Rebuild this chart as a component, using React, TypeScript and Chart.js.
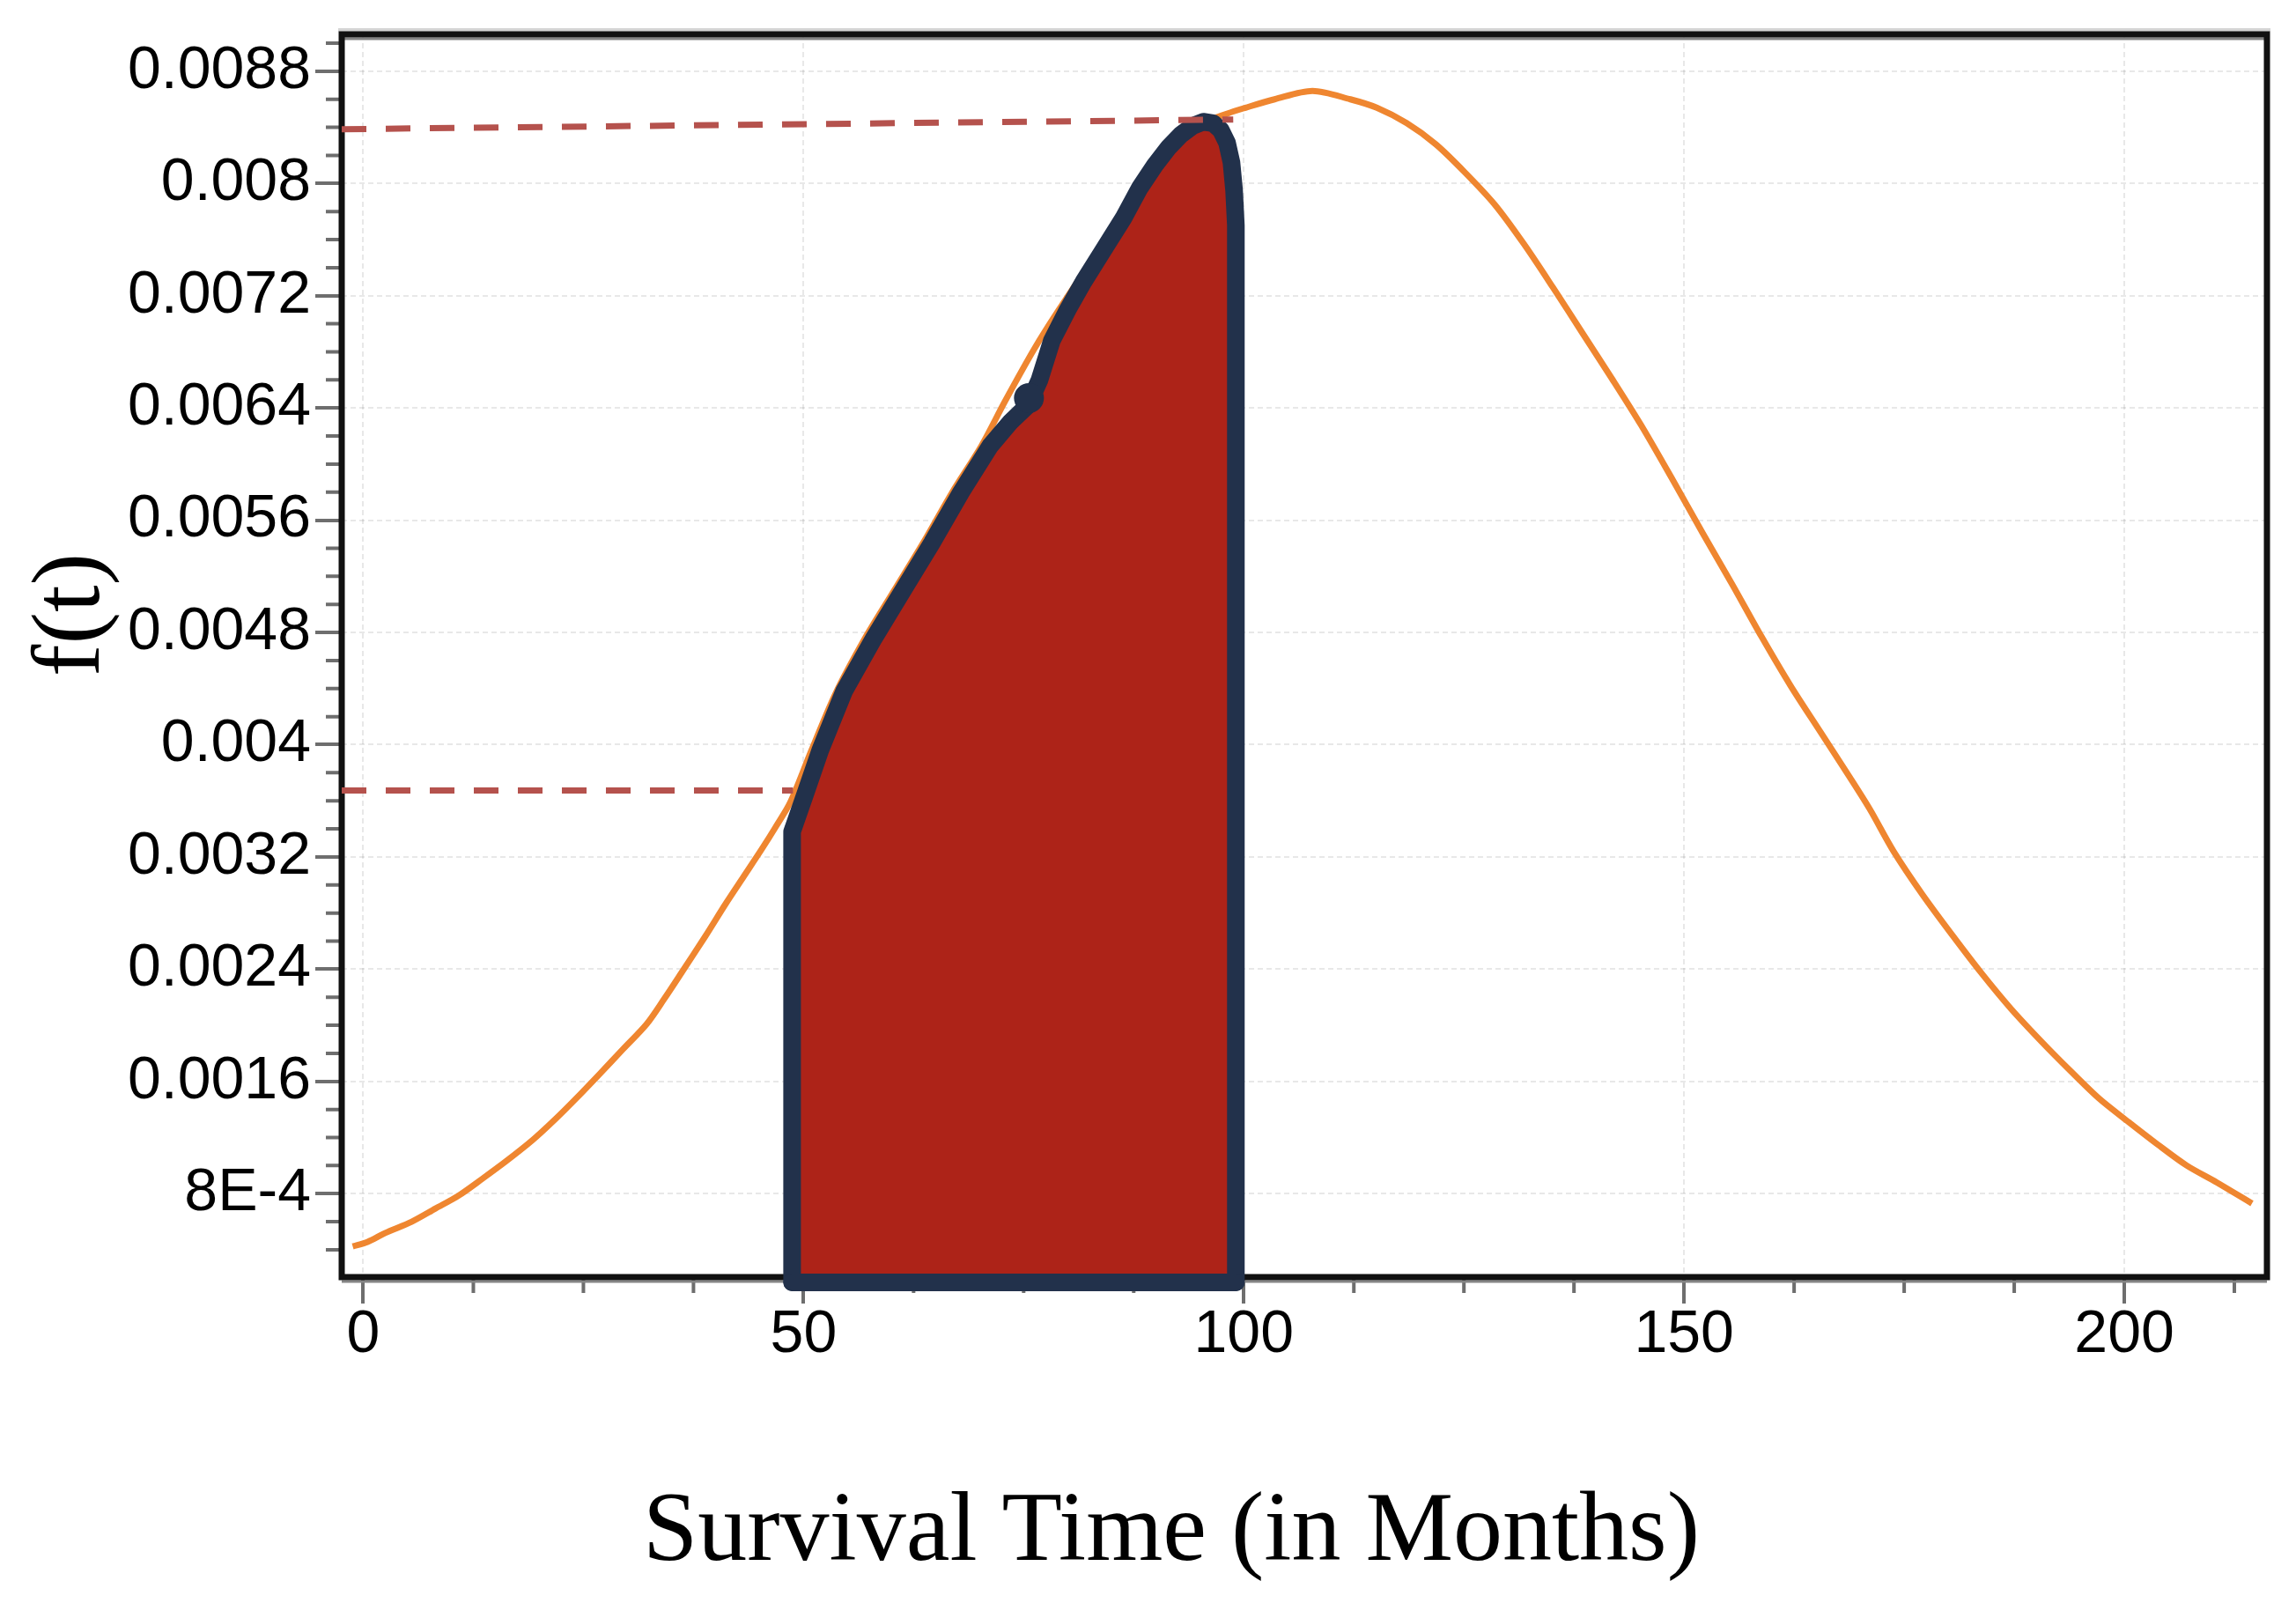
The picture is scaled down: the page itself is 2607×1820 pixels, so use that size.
import React, { useEffect, useRef } from "react";
import { Chart, registerables } from "chart.js";

Chart.register(...registerables);

// ---- Data ----
const ORANGE_T = [
  -1.2, 0.5, 2.5, 5.5, 8.2, 10.8, 13.5, 16.2, 19.2, 21.8, 24.2, 26.8, 29.5, 32.2, 34.2, 36.2,
  38.8, 41.2, 43.2, 45.2, 46.8, 48.5, 50.9, 53.6, 56.9, 60.2, 63.6, 66.9, 70.2, 72.9, 76.2,
  78.9, 83.5, 89.3, 92.5, 95.1, 98.2, 100.2, 103.5, 107.8, 112.1, 115.1, 118.5, 121.8, 125.1,
  128.5, 131.8, 135.1, 138.5, 141.8, 145.1, 148.6, 152.1, 155.5, 158.8, 162.1, 165.5, 168.8,
  171.1, 173.8, 177.1, 180.5, 183.8, 187.1, 190.5, 193.8, 197.1, 200.5, 203.8, 207.1, 210.5, 214.5,
];
const ORANGE_F = [
  0.000424, 0.000456, 0.00052, 0.0006, 0.000694, 0.000785, 0.000905, 0.00103, 0.00118, 0.00133,
  0.00148, 0.00165, 0.00183, 0.00201, 0.00219, 0.00238, 0.00263, 0.00287, 0.00306,
  0.00325, 0.00341, 0.00359, 0.00396, 0.00436, 0.00475, 0.00509, 0.00544, 0.0058, 0.00613,
  0.00645, 0.00682, 0.00709, 0.00752, 0.00802, 0.00826, 0.00842, 0.0085, 0.00854, 0.0086,
  0.00866, 0.0086, 0.00854, 0.00843, 0.00828, 0.00808, 0.00785, 0.00757, 0.00726, 0.00693,
  0.00661, 0.00628, 0.0059, 0.00551, 0.00514, 0.00477, 0.00442, 0.00409, 0.00377, 0.00354,
  0.00324, 0.00293, 0.00264, 0.00237, 0.00212, 0.00189, 0.00168, 0.00148, 0.00131, 0.00115,
  0.001, 0.00088, 0.00073,
];

// shaded area (outline centre line)
const FILL_T = [
  48.7, 48.7, 50.2, 51.9, 54.6, 58.0, 61.2, 64.6, 67.9, 71.2, 73.5, 75.5, 76.8, 78.2, 80.0,
  81.8, 84.0, 86.3, 88.2, 89.9, 91.5, 92.9, 94.2, 95.4, 96.5, 97.4, 98.1, 98.6, 98.9, 99.1, 99.1,
];
const FILL_F = [
  0.000168, 0.00338, 0.00365, 0.00396, 0.00438, 0.00476, 0.00509, 0.00544, 0.0058, 0.00613,
  0.0063, 0.00642, 0.0066, 0.00688, 0.0071, 0.0073, 0.00752, 0.00775, 0.00797, 0.00813,
  0.00826, 0.00835, 0.00841, 0.00844, 0.00843, 0.00838, 0.00829, 0.00815, 0.00795, 0.0077,
  0.000168,
];
const BASE_T = [48.7, 99.1];
const BASE_F = [0.000168, 0.000168];
const BLOB_T = [75.6];
const BLOB_F = [0.00647];

const UPPER_DASH_T = [-2.45, 98.8];
const UPPER_DASH_F = [0.008387, 0.008456];
const LOWER_DASH_T = [-2.45, 48.8];
const LOWER_DASH_F = [0.003673, 0.003673];

const X_TICKS = [0, 50, 100, 150, 200];
const X_LABELS = ["0", "50", "100", "150", "200"];
const X_MINOR = [12.5, 25, 37.5, 62.5, 75, 87.5, 112.5, 125, 137.5, 162.5, 175, 187.5, 212.5];
const Y_TICKS = [0.0008, 0.0016, 0.0024, 0.0032, 0.004, 0.0048, 0.0056, 0.0064, 0.0072, 0.008, 0.0088];
const Y_LABELS = ["8E-4", "0.0016", "0.0024", "0.0032", "0.004", "0.0048", "0.0056", "0.0064", "0.0072", "0.008", "0.0088"];
const Y_MINOR = [
  0.0004, 0.0006, 0.001, 0.0012, 0.0014, 0.0018, 0.002, 0.0022, 0.0026, 0.0028, 0.003, 0.0034,
  0.0036, 0.0038, 0.0042, 0.0044, 0.0046, 0.005, 0.0052, 0.0054, 0.0058, 0.006, 0.0062, 0.0066,
  0.0068, 0.007, 0.0074, 0.0076, 0.0078, 0.0082, 0.0084, 0.0086, 0.009,
];
const X_MIN = -2.45;
const X_MAX = 216.2;
const Y_MIN = 0.000205;
const Y_MAX = 0.009063;

const X_TITLE = "Survival Time (in Months)";
const Y_TITLE = "f(t)";

const W = 2607;
const H = 1820;

const pts = (xs: number[], ys: number[]) => xs.map((x, i) => ({ x, y: ys[i] }));

const NAVY = "#22314b";
const RED = "#ad2318";
const ORANGE = "#ef8630";
const DASH = "#b5524d";
const SANS = "'Liberation Sans', Arial, sans-serif";
const SERIF = "'Liberation Serif', 'Times New Roman', serif";

const framePlugin = {
  id: "frameMinor",
  beforeDatasetsDraw(chart: any) {
    const { ctx, chartArea: a, scales } = chart;
    ctx.save();
    ctx.strokeStyle = "#6e6e6e";
    ctx.lineWidth = 4;
    ctx.beginPath();
    X_MINOR.forEach((v) => {
      const px = scales.x.getPixelForValue(v);
      ctx.moveTo(px, a.bottom);
      ctx.lineTo(px, a.bottom + 18);
    });
    Y_MINOR.forEach((v) => {
      const py = scales.y.getPixelForValue(v);
      ctx.moveTo(a.left - 18, py);
      ctx.lineTo(a.left, py);
    });
    ctx.stroke();
    // bevel shades
    ctx.strokeStyle = "#d4d4d4";
    ctx.lineWidth = 4;
    ctx.beginPath();
    ctx.moveTo(a.left - 4, a.top - 5);
    ctx.lineTo(a.right + 4, a.top - 5);
    ctx.stroke();
    ctx.strokeStyle = "#858585";
    ctx.lineWidth = 3;
    ctx.beginPath();
    ctx.moveTo(a.left, a.top + 5);
    ctx.lineTo(a.right, a.top + 5);
    ctx.moveTo(a.left, a.bottom + 5);
    ctx.lineTo(a.right, a.bottom + 5);
    ctx.stroke();
    ctx.strokeStyle = "#111";
    ctx.lineWidth = 7;
    ctx.strokeRect(a.left, a.top, a.right - a.left, a.bottom - a.top);
    ctx.restore();
  },
};

const titlePlugin = {
  id: "axisTitles",
  afterDraw(chart: any) {
    const { ctx } = chart;
    ctx.save();
    ctx.fillStyle = "#000";
    ctx.textAlign = "center";
    ctx.textBaseline = "alphabetic";
    ctx.font = `112px ${SERIF}`;
    ctx.fillText(X_TITLE, 1330, 1771);
    ctx.translate(112, 698);
    ctx.rotate(-Math.PI / 2);
    ctx.font = `110px ${SERIF}`;
    ctx.fillText(Y_TITLE, 0, 0);
    ctx.restore();
  },
};

export default function App() {
  const ref = useRef<HTMLCanvasElement | null>(null);

  useEffect(() => {
    const canvas = ref.current;
    if (!canvas) return;
    const chart = new Chart(canvas, {
      type: "scatter",
      data: {
        datasets: [
          {
            label: "upper dash",
            data: pts(UPPER_DASH_T, UPPER_DASH_F),
            showLine: true,
            borderColor: DASH,
            borderWidth: 7,
            borderDash: [28, 22],
            pointRadius: 0,
            order: 1,
          },
          {
            label: "lower dash",
            data: pts(LOWER_DASH_T, LOWER_DASH_F),
            showLine: true,
            borderColor: DASH,
            borderWidth: 7,
            borderDash: [28, 22],
            pointRadius: 0,
            order: 1,
          },
          {
            label: "blob",
            data: pts(BLOB_T, BLOB_F),
            showLine: false,
            pointRadius: 17,
            pointBackgroundColor: NAVY,
            pointBorderWidth: 0,
            clip: false,
            order: 2,
          },
          {
            label: "base",
            data: pts(BASE_T, BASE_F),
            showLine: true,
            borderColor: NAVY,
            borderWidth: 20,
            borderCapStyle: "round",
            pointRadius: 0,
            clip: false,
            order: 3,
          },
          {
            label: "area",
            data: pts(FILL_T, FILL_F),
            showLine: true,
            borderColor: NAVY,
            backgroundColor: RED,
            borderWidth: 20,
            borderJoinStyle: "round",
            borderCapStyle: "round",
            fill: "start",
            tension: 0,
            pointRadius: 0,
            clip: false,
            order: 4,
          },
          {
            label: "f(t)",
            data: pts(ORANGE_T, ORANGE_F),
            showLine: true,
            borderColor: ORANGE,
            borderWidth: 7,
            tension: 0.3,
            pointRadius: 0,
            order: 5,
          },
        ],
      },
      options: {
        animation: false,
        responsive: false,
        devicePixelRatio: 1,
        maintainAspectRatio: false,
        layout: { padding: { left: 0, top: 35, right: W - 2574, bottom: 0 } },
        plugins: { legend: { display: false }, tooltip: { enabled: false } },
        scales: {
          x: {
            type: "linear",
            position: "bottom",
            min: X_MIN,
            max: X_MAX,
            afterBuildTicks: (s: any) => {
              s.ticks = X_TICKS.map((v) => ({ value: v }));
            },
            afterFit: (s: any) => {
              s.height = H - 1450;
            },
            ticks: {
              autoSkip: false,
              maxRotation: 0,
              padding: 2,
              color: "#000",
              font: { family: SANS, size: 68, lineHeight: 1 },
              callback: (_v: any, i: number) => X_LABELS[i],
            },
            grid: {
              color: "rgba(0,0,0,0.09)",
              lineWidth: 2,
              tickLength: 30,
              tickWidth: 4,
              tickColor: "#6e6e6e",
            },
            border: { display: false, dash: [6, 4] },
          },
          y: {
            type: "linear",
            min: Y_MIN,
            max: Y_MAX,
            afterBuildTicks: (s: any) => {
              s.ticks = Y_TICKS.map((v) => ({ value: v }));
            },
            afterFit: (s: any) => {
              s.width = 388;
            },
            ticks: {
              autoSkip: false,
              padding: 5,
              color: "#000",
              font: { family: SANS, size: 68, lineHeight: 1 },
              callback: (_v: any, i: number) => Y_LABELS[i],
            },
            grid: {
              color: "rgba(0,0,0,0.09)",
              lineWidth: 2,
              tickLength: 30,
              tickWidth: 4,
              tickColor: "#6e6e6e",
            },
            border: { display: false, dash: [6, 4] },
          },
        },
      },
      plugins: [framePlugin, titlePlugin],
    } as any);
    return () => chart.destroy();
  }, []);

  return (
    <div style={{ position: "absolute", left: 0, top: 0, width: W, height: H, background: "#fff" }}>
      <canvas ref={ref} width={W} height={H} style={{ display: "block", width: W, height: H }} />
    </div>
  );
}
